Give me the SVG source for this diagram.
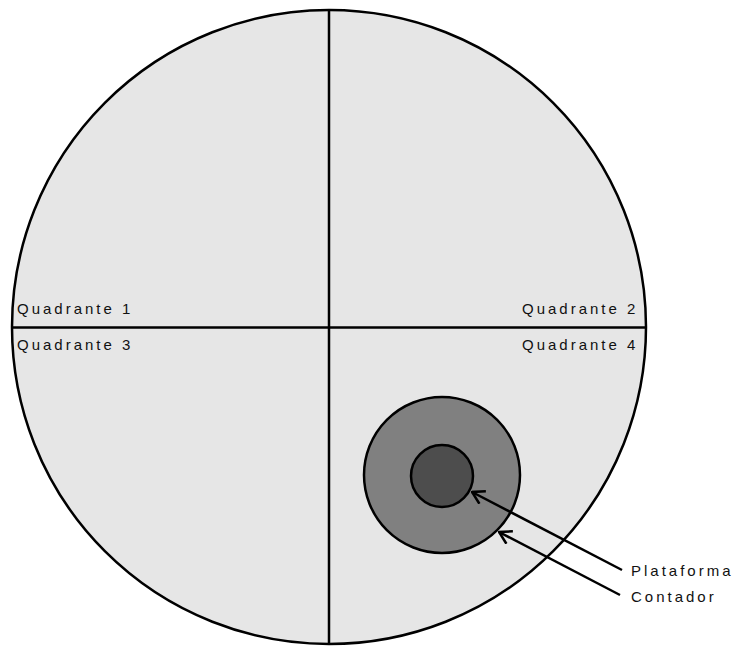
<svg xmlns="http://www.w3.org/2000/svg" width="734" height="646" viewBox="0 0 734 646">
<style>
.lbl{font-family:"Liberation Sans",Arial,sans-serif;font-size:15px;letter-spacing:3px;fill:#111}
.ln{stroke:#000;stroke-width:2.5;fill:none}
</style>
<defs>
<marker id="arr" viewBox="0 0 14 16" refX="13" refY="8" markerWidth="14" markerHeight="16" markerUnits="userSpaceOnUse" orient="auto">
<path d="M1,1 L13,8 L1,15" fill="none" stroke="#000" stroke-width="2.5"/>
</marker>
</defs>
<rect width="734" height="646" fill="#fff"/>
<g id="field">
<circle cx="329" cy="327" r="317" fill="#e6e6e6" stroke="#000" stroke-width="2.5"/>
<line class="ln" x1="329" y1="10" x2="329" y2="644"/>
<line class="ln" x1="12" y1="327.5" x2="646" y2="327.5"/>
</g>
<g id="q1"><text class="lbl" x="17" y="314">Quadrante 1</text></g>
<g id="q2"><text class="lbl" x="522" y="314">Quadrante 2</text></g>
<g id="q3"><text class="lbl" x="17" y="350">Quadrante 3</text></g>
<g id="q4"><text class="lbl" x="522" y="350">Quadrante 4</text></g>
<g id="contador"><circle cx="442" cy="475" r="78" fill="#808080" stroke="#000" stroke-width="2.5"/></g>
<g id="plataforma"><circle cx="442" cy="476" r="31" fill="#4d4d4d" stroke="#000" stroke-width="2.5"/></g>
<g id="connectors">
<line class="ln" x1="622" y1="570" x2="472" y2="492" marker-end="url(#arr)"/>
<line class="ln" x1="620" y1="595" x2="499" y2="532" marker-end="url(#arr)"/>
</g>
<g id="labels">
<text class="lbl" x="631" y="576">Plataforma</text>
<text class="lbl" x="631" y="602">Contador</text>
</g>
</svg>
